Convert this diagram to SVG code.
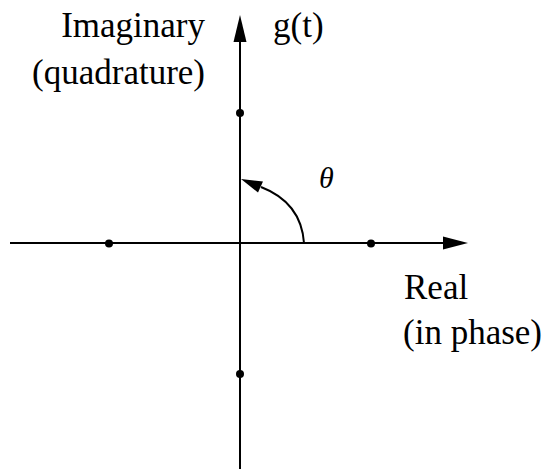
<svg xmlns="http://www.w3.org/2000/svg" width="549" height="469" viewBox="0 0 549 469" font-family="Liberation Serif, serif" xml:lang="en">
<style>
.ax{stroke:#000;stroke-width:2;fill:none}
text{font-family:'Liberation Serif',serif;font-size:35px;fill:#000}
</style>
<rect width="549" height="469" fill="#fff"/>
<g id="connectors">
<line class="ax" x1="10" y1="243" x2="446" y2="243"/>
<polygon points="468,243 443,236.5 443,249.5" fill="#000"/>
<line class="ax" x1="240" y1="40" x2="240" y2="469"/>
<polygon points="240,15 233.5,42 246.5,42" fill="#000"/>
<path class="ax" d="M304,243 C302,215 287,197 261,187"/>
<polygon points="241,179 263,181.5 258,192.5" fill="#000"/>
</g>
<g id="dot-left"><circle cx="109" cy="243.5" r="4" fill="#000"/></g>
<g id="dot-right"><circle cx="371" cy="243.5" r="4" fill="#000"/></g>
<g id="dot-top"><circle cx="240" cy="113" r="4" fill="#000"/></g>
<g id="dot-bottom"><circle cx="240" cy="374" r="4" fill="#000"/></g>
<g id="label-imag">
<text x="205" y="37" text-anchor="end">Imaginary</text>
<text x="205" y="84" text-anchor="end">(quadrature)</text>
</g>
<g id="label-g"><text x="273" y="37">g(t)</text></g>
<g id="label-theta"><text x="319" y="188" style="font-style:italic;font-size:30px">&#952;</text></g>
<g id="label-real">
<text x="404" y="299">Real</text>
<text x="403" y="344">(in phase)</text>
</g>
</svg>
